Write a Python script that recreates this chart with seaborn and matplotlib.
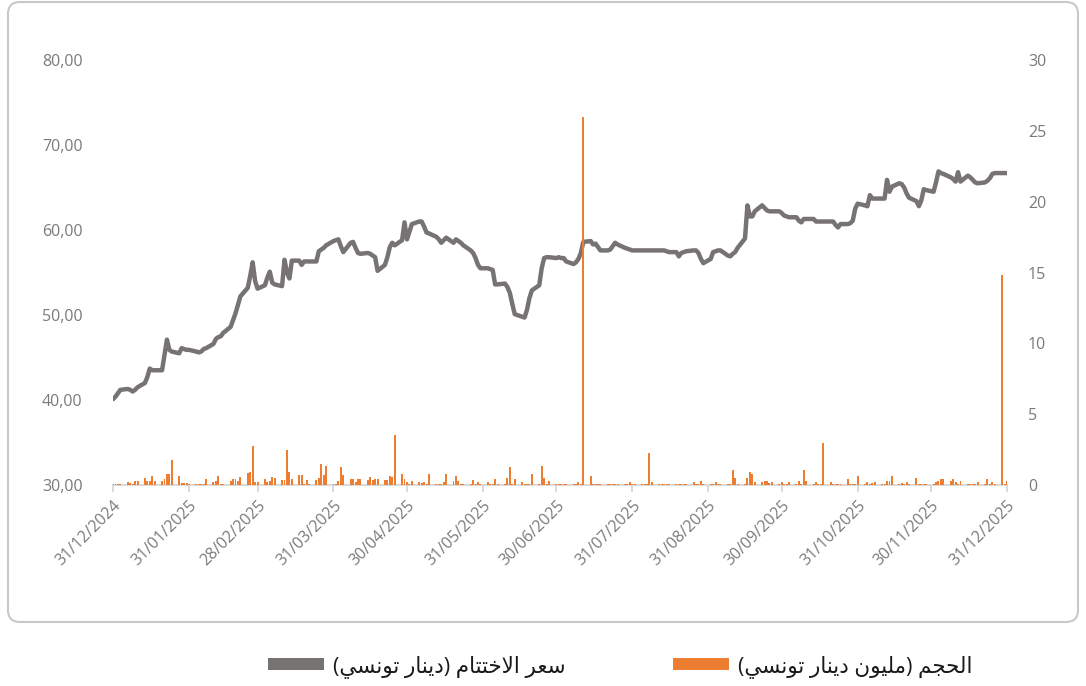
import numpy as np
import pandas as pd
import matplotlib
matplotlib.use("Agg")
import matplotlib.pyplot as plt
import matplotlib.dates as mdates
from matplotlib.patches import FancyBboxPatch, Patch
from matplotlib.ticker import FuncFormatter, MultipleLocator
from matplotlib.transforms import IdentityTransform
import seaborn as sns

# ---- closing price (TND), one value per trading day ----
close_dec24 = [40.1]
close_jan = [40.4, 40.8, 41.2, 41.3, 41.2, 41.0, 41.2, 41.5, 42.0, 42.7, 43.7, 43.5,
             43.5, 43.5, 45.3, 47.1, 45.9, 45.7, 45.5, 46.1, 46.0, 45.9, 45.9]
close_feb = [45.7, 45.6, 45.7, 46.0, 46.1, 46.6, 47.2, 47.4, 47.5, 47.9, 48.6, 49.4,
             50.2, 51.2, 52.2, 53.2, 54.6, 56.2, 54.0, 53.1]
close_mar = [53.5, 54.4, 55.1, 53.8, 53.6, 53.4, 56.5, 55.0, 54.3, 56.4, 56.4, 55.9,
             56.3, 56.3, 56.3, 56.3, 57.5, 57.7, 57.9, 58.2, 58.7]
close_apr = [58.8, 58.9, 58.1, 57.4, 58.5, 58.6, 57.9, 57.3, 57.2, 57.3, 57.2, 57.0,
             56.8, 55.2, 55.9, 56.8, 58.0, 58.5, 58.2, 58.8, 60.9, 58.9]
close_may = [59.8, 60.7, 61.0, 61.0, 60.4, 59.7, 59.6, 59.2, 58.9, 58.5, 58.8, 59.1,
             58.5, 58.9, 58.7, 58.5, 58.2, 57.6, 57.3, 56.7, 55.9, 55.5]
close_jun = [55.5, 55.4, 55.3, 53.6, 53.6, 53.7, 53.3, 52.6, 51.3, 50.1, 49.8, 49.7,
             50.6, 52.0, 52.9, 53.5, 55.5, 56.7, 56.8, 56.8, 56.7]
close_jul = [56.8, 56.7, 56.7, 56.3, 56.0, 56.2, 56.6, 57.3, 58.6, 58.7, 58.3, 58.4,
             58.0, 57.6, 57.6, 57.7, 58.1, 58.5, 58.3, 57.9, 57.8, 57.7, 57.6]
close_aug = [57.6, 57.6, 57.6, 57.6, 57.6, 57.6, 57.6, 57.6, 57.6, 57.5, 57.4, 57.4,
             56.9, 57.3, 57.4, 57.5, 57.6, 57.6, 57.3, 56.6, 56.1]
close_sep = [56.6, 57.4, 57.5, 57.6, 57.6, 57.0, 56.9, 57.2, 57.4, 57.9, 59.0, 62.9,
             61.6, 61.6, 62.2, 62.9, 62.6, 62.3, 62.2, 62.2, 62.2, 62.0]
close_oct = [61.7, 61.6, 61.5, 61.5, 61.1, 60.9, 61.3, 61.3, 61.3, 61.0, 61.0, 61.0,
             61.0, 61.0, 61.0, 60.6, 60.3, 60.7, 60.7, 60.8, 61.1, 62.5, 63.1]
close_nov = [62.9, 62.8, 64.1, 63.7, 63.7, 63.7, 63.7, 65.9, 64.5, 65.1, 65.5, 65.4,
             65.0, 64.3, 63.8, 63.4, 62.8, 63.5, 64.8, 64.7]
close_dec = [64.5, 65.6, 66.9, 66.7, 66.6, 66.2, 66.0, 65.7, 66.8, 65.7, 66.4, 66.2,
             65.9, 65.6, 65.5, 65.6, 65.8, 66.1, 66.6, 66.7, 66.7, 66.7, 66.7]

# ---- traded volume (million TND), one value per trading day ----
vol_dec24 = [0.1]
vol_jan = [0.05, 0.1, 0.1, 0.2, 0.15, 0.1, 0.3, 0.25, 0.5, 0.25, 0.3, 0.65,
           0.25, 0.25, 0.4, 0.8, 0.8, 1.75, 0.65, 0.15, 0.15, 0.15, 0.1]
vol_feb = [0.1, 0.1, 0.05, 0.1, 0.4, 0.2, 0.3, 0.65, 0.1, 0.05, 0.3, 0.4,
           0.45, 0.3, 0.6, 0.85, 0.9, 2.75, 0.2, 0.2]
vol_mar = [0.45, 0.2, 0.3, 0.55, 0.5, 0.35, 0.35, 2.45, 0.95, 0.45, 0.7, 0.7,
           0.1, 0.35, 0.1, 0.35, 0.5, 1.5, 0.7, 1.35, 0.1]
vol_apr = [0.1, 0.25, 1.3, 0.7, 0.45, 0.45, 0.2, 0.45, 0.45, 0.35, 0.55, 0.35,
           0.4, 0.45, 0.35, 0.35, 0.65, 0.6, 3.5, 0.8, 0.4, 0.2]
vol_may = [0.1, 0.3, 0.2, 0.15, 0.2, 0.1, 0.8, 0.1, 0.1, 0.1, 0.2, 0.8,
           0.3, 0.65, 0.25, 0.1, 0.1, 0.1, 0.35, 0.1, 0.2, 0.1]
vol_jun = [0.2, 0.1, 0.1, 0.4, 0.1, 0.1, 0.5, 1.25, 0.1, 0.4, 0.2, 0.1,
           0.1, 0.1, 0.75, 0.1, 1.35, 0.5, 0.1, 0.3, 0.1]
vol_jul = [0.1, 0.05, 0.1, 0.05, 0.1, 0.1, 0.2, 0.1, 26.0, 0.65, 0.1, 0.1,
           0.05, 0.1, 0.05, 0.1, 0.1, 0.1, 0.05, 0.1, 0.1, 0.2, 0.1]
vol_aug = [0.05, 0.1, 0.1, 0.1, 2.25, 0.2, 0.1, 0.05, 0.1, 0.1, 0.05, 0.05,
           0.1, 0.1, 0.1, 0.1, 0.2, 0.1, 0.05, 0.3, 0.1]
vol_sep = [0.05, 0.1, 0.2, 0.05, 0.1, 0.1, 0.05, 1.05, 0.5, 0.1, 0.1, 0.5,
           0.95, 0.8, 0.2, 0.2, 0.3, 0.25, 0.15, 0.2, 0.1, 0.2]
vol_oct = [0.05, 0.1, 0.2, 0.05, 0.3, 0.1, 1.05, 0.3, 0.05, 0.2, 0.1, 0.05,
           2.95, 0.2, 0.1, 0.1, 0.1, 0.1, 0.4, 0.1, 0.1, 0.05, 0.65]
vol_nov = [0.1, 0.2, 0.1, 0.15, 0.2, 0.05, 0.1, 0.3, 0.3, 0.65, 0.1, 0.15,
           0.1, 0.2, 0.1, 0.5, 0.1, 0.1, 0.1, 0.1]
vol_dec = [0.05, 0.2, 0.3, 0.4, 0.4, 0.3, 0.4, 0.2, 0.05, 0.3, 0.05, 0.1,
           0.05, 0.05, 0.2, 0.1, 0.4, 0.05, 0.2, 0.1, 14.8, 0.1, 0.3]

label_close = "سعر الاختتام (دينار تونسي)"
label_volume = "الحجم (مليون دينار تونسي)"

dates = pd.bdate_range("2024-12-31", "2025-12-31")
close = sum([close_dec24, close_jan, close_feb, close_mar, close_apr, close_may, close_jun,
             close_jul, close_aug, close_sep, close_oct, close_nov, close_dec], [])
volume = sum([vol_dec24, vol_jan, vol_feb, vol_mar, vol_apr, vol_may, vol_jun,
              vol_jul, vol_aug, vol_sep, vol_oct, vol_nov, vol_dec], [])
df = pd.DataFrame({"date": dates, "close": close, "volume": volume})


# Arabic contextual shaping + visual ordering (matplotlib has no bidi layout)
FORMS = {  # isolated, final, initial, medial
    "ا": ("\uFE8D", "\uFE8E", None, None),
    "ت": ("\uFE95", "\uFE96", "\uFE97", "\uFE98"),
    "ج": ("\uFE9D", "\uFE9E", "\uFE9F", "\uFEA0"),
    "ح": ("\uFEA1", "\uFEA2", "\uFEA3", "\uFEA4"),
    "خ": ("\uFEA5", "\uFEA6", "\uFEA7", "\uFEA8"),
    "د": ("\uFEA9", "\uFEAA", None, None),
    "ر": ("\uFEAD", "\uFEAE", None, None),
    "س": ("\uFEB1", "\uFEB2", "\uFEB3", "\uFEB4"),
    "ع": ("\uFEC9", "\uFECA", "\uFECB", "\uFECC"),
    "ل": ("\uFEDD", "\uFEDE", "\uFEDF", "\uFEE0"),
    "م": ("\uFEE1", "\uFEE2", "\uFEE3", "\uFEE4"),
    "ن": ("\uFEE5", "\uFEE6", "\uFEE7", "\uFEE8"),
    "و": ("\uFEED", "\uFEEE", None, None),
    "ي": ("\uFEF1", "\uFEF2", "\uFEF3", "\uFEF4"),
}


def shape_arabic(text):
    def dual(ch):
        return ch in FORMS and FORMS[ch][2] is not None

    out, i, n = [], 0, len(text)
    while i < n:
        c = text[i]
        if c not in FORMS:
            out.append(c)
            i += 1
            continue
        joins_prev = i > 0 and dual(text[i - 1])
        if c == "ل" and i + 1 < n and text[i + 1] == "ا":
            out.append("\uFEFC" if joins_prev else "\uFEFB")
            i += 2
            continue
        joins_next = dual(c) and i + 1 < n and text[i + 1] in FORMS
        iso, fin, ini, med = FORMS[c]
        if joins_prev and joins_next:
            g = med
        elif joins_prev:
            g = fin
        elif joins_next:
            g = ini
        else:
            g = iso
        out.append(g)
        i += 1
    return "".join(reversed(out)).translate(str.maketrans("()", ")("))


sns.set_theme(style="white")
plt.rcParams["font.family"] = ["Open Sans", "DejaVu Sans"]

LINE_COLOR = "#777372"
BAR_COLOR = "#ED7D31"
TEXT_COLOR = "#7a7a7a"
AXIS_COLOR = "#d9d9d9"

fig = plt.figure(figsize=(10.86, 6.86), dpi=100)
ax = fig.add_axes([0.1041, 0.2930, 0.8232, 0.6195])
ax2 = ax.twinx()

# price line on the left axis
sns.lineplot(data=df, x="date", y="close", ax=ax, color=LINE_COLOR, linewidth=3.2,
             solid_joinstyle="round", solid_capstyle="round", zorder=2)

# volume columns on the right axis
ax2.bar(df["date"], df["volume"], width=0.8, color=BAR_COLOR, linewidth=0, zorder=3)

ax.set_xlim(pd.Timestamp("2024-12-31"), pd.Timestamp("2025-12-31"))
ax.set_ylim(30, 80)
ax2.set_ylim(0, 30)
ax.yaxis.set_major_locator(MultipleLocator(10))
ax2.yaxis.set_major_locator(MultipleLocator(5))
ax.yaxis.set_major_formatter(FuncFormatter(lambda v, p: f"{v:.2f}".replace(".", ",")))
ax2.yaxis.set_major_formatter(FuncFormatter(lambda v, p: f"{v:.0f}"))

month_ends = pd.date_range("2024-12-31", "2025-12-31", freq="ME")
ax.set_xticks(month_ends)
ax.set_xticklabels([d.strftime("%d/%m/%Y") for d in month_ends])
ax.set_xlabel("")
ax.set_ylabel("")
ax2.set_ylabel("")

for a in (ax, ax2):
    for s in a.spines.values():
        s.set_visible(False)
    a.grid(False)
ax.spines["bottom"].set_visible(True)
ax.spines["bottom"].set_color(AXIS_COLOR)
ax.spines["bottom"].set_linewidth(1.4)

ax.tick_params(axis="x", direction="out", length=5, width=1.4, color=AXIS_COLOR,
               labelsize=11.5, labelcolor=TEXT_COLOR, pad=4, bottom=True)
for lbl in ax.get_xticklabels():
    lbl.set_rotation(45)
    lbl.set_ha("right")
    lbl.set_va("top")
    lbl.set_rotation_mode("anchor")
ax.tick_params(axis="y", length=0, labelsize=11.5, labelcolor=TEXT_COLOR, pad=22)
ax2.tick_params(axis="y", length=0, labelsize=11.5, labelcolor=TEXT_COLOR, pad=15, right=False)

# rounded chart frame
frame = FancyBboxPatch((8, 686 - 622), 1070, 620,
                       boxstyle="round,pad=0,rounding_size=12",
                       transform=IdentityTransform(), facecolor="none",
                       edgecolor="#c8c8c8", linewidth=1.5, zorder=0)
fig.add_artist(frame)

handles = [Patch(facecolor=LINE_COLOR, edgecolor="none", label=shape_arabic(label_close)),
           Patch(facecolor=BAR_COLOR, edgecolor="none", label=shape_arabic(label_volume))]
fig.legend(handles=handles, loc="center", bbox_to_anchor=(0.571, 0.029), ncol=2,
           frameon=False, fontsize=15.5, handlelength=2.6, handleheight=0.5,
           handletextpad=0.4, columnspacing=5.0, labelcolor="#1a1a1a")

fig.savefig("out.png", dpi=100)
